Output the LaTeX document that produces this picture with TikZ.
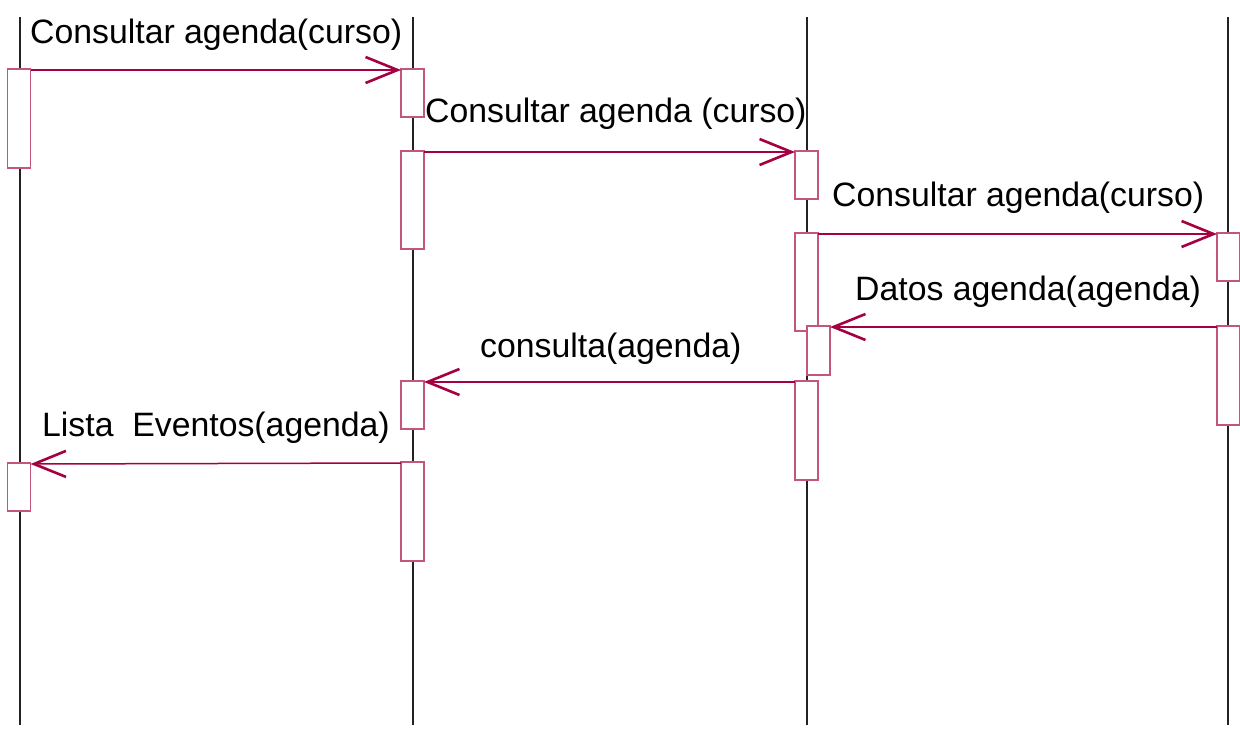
\documentclass[tikz,border=0pt]{standalone}
\usepackage{fontspec}
\setmainfont{Liberation Sans}
\usetikzlibrary{arrows.meta}
\definecolor{msgcol}{HTML}{A50041}
\definecolor{actcol}{HTML}{C4557C}
\definecolor{lifecol}{HTML}{222222}
\tikzset{
  lifeline/.style={draw=lifecol, line width=1.2pt},
  act/.style={draw=actcol, fill=white, line width=1.5pt, minimum width=23pt,
    inner sep=0pt, outer sep=0pt, anchor=north},
  msg/.style={draw=msgcol, line width=1.5pt,
    -{Straight Barb[length=32pt, width=26pt, line width=2.6pt]}},
  lab/.style={font=\fontsize{33.8}{40}\selectfont, anchor=base west, inner sep=0pt},
}

\begin{document}
\begin{tikzpicture}[x=1pt, y=-1pt]
  \useasboundingbox (0,0) rectangle (1240,731);

  % lifelines
  \foreach \n/\x in {1/20,2/413,3/807,4/1228}
    \draw[lifeline] (\x,17) coordinate (top\n) -- (\x,725) coordinate (bot\n);

  % activations (top edge at the given point)
  \node[act, minimum height=99pt] (a1) at (19,69) {};
  \node[act, minimum height=48pt] (a2) at (19,463) {};
  \node[act, minimum height=48pt] (b1) at (412.5,69) {};
  \node[act, minimum height=98pt] (b2) at (412.5,151) {};
  \node[act, minimum height=48pt] (b3) at (412.5,381) {};
  \node[act, minimum height=99pt] (b4) at (412.5,462) {};
  \node[act, minimum height=48pt] (c1) at (806.5,151) {};
  \node[act, minimum height=98pt] (c2) at (806.5,233) {};
  \node[act, minimum height=49pt] (c3) at (818.5,326) {};
  \node[act, minimum height=99pt] (c4) at (806.5,381) {};
  \node[act, minimum height=48pt] (d1) at (1228.5,233) {};
  \node[act, minimum height=99pt] (d2) at (1228.5,326) {};

  % messages
  \draw[msg] ([yshift=-1pt]a1.north east) -- ([yshift=-1pt]b1.north west);
  \draw[msg] ([yshift=-1pt]b2.north east) -- ([yshift=-1pt]c1.north west);
  \draw[msg] ([yshift=-1pt]c2.north east) -- ([yshift=-1pt]d1.north west);
  \draw[msg] ([yshift=-1pt]d2.north west) -- ([yshift=-1pt]c3.north east);
  \draw[msg] ([yshift=-1pt]c4.north west) -- ([yshift=-1pt]b3.north east);
  \draw[msg] ([yshift=-1pt]b4.north west) -- ([yshift=-1pt]a2.north east);

  % labels
  \node[lab] (m1) at (30,43) {Consultar agenda(curso)};
  \node[lab] (m2) at (425,122) {Consultar agenda (curso)};
  \node[lab] (m3) at (832,206) {Consultar agenda(curso)};
  \node[lab] (m4) at (855,300) {Datos agenda(agenda)};
  \node[lab] (m5) at (480,357) {consulta(agenda)};
  \node[lab] (m6) at (42,436) {Lista\ \ Eventos(agenda)};
\end{tikzpicture}
\end{document}
